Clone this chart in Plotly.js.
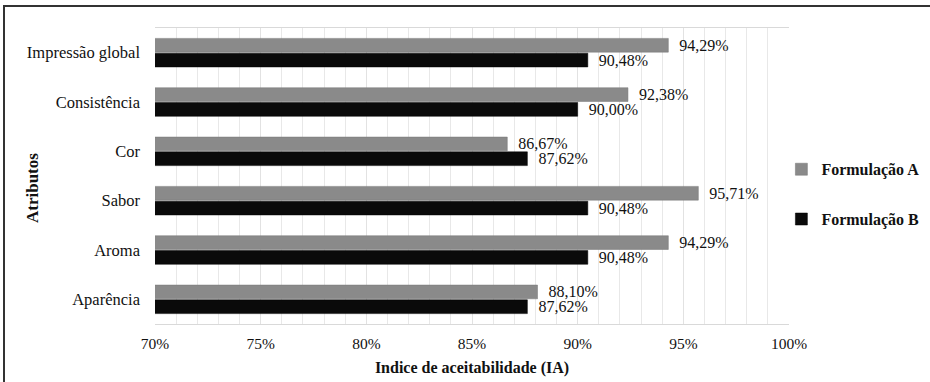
<!DOCTYPE html>
<html>
<head>
<meta charset="utf-8">
<script src="https://cdn.plot.ly/plotly-3.0.1.min.js"></script>
<style>
html,body{margin:0;padding:0;background:#fff;}
#wrap{position:relative;width:930px;height:382px;}
#chart{width:930px;height:382px;}
#frameTop{position:absolute;left:3px;top:5px;width:927px;height:2px;background:#333;pointer-events:none;}
#frameLeft{position:absolute;left:3px;top:5px;width:2px;height:377px;background:#333;pointer-events:none;}
</style>
</head>
<body>
<div id="wrap">
<div id="chart"></div>
<div id="frameTop"></div>
<div id="frameLeft"></div>
</div>
<script>
// Data (top-to-bottom order)
const categories = ["Impressão global", "Consistência", "Cor", "Sabor", "Aroma", "Aparência"];
const formulacaoA = [94.29, 92.38, 86.67, 95.71, 94.29, 88.10];
const formulacaoB = [90.48, 90.00, 87.62, 90.48, 90.48, 87.62];
const seriesNames = ["Formulação A", "Formulação B"];
const tickVals = [70, 75, 80, 85, 90, 95, 100];

const fmt = v => "  " + v.toFixed(2).replace(".", ",") + "%";
const serif = "Liberation Serif";

const traces = [
  {
    type: "bar", orientation: "h", name: seriesNames[0],
    y: categories, x: formulacaoA,
    marker: {color: "#8a8a8a", line: {color: "#777", width: 0.5}},
    text: formulacaoA.map(fmt), textposition: "outside", constraintext: "none",
    textfont: {family: serif, size: 16, color: "#111"},
    cliponaxis: false, legendgroup: "a", hoverinfo: "x+y"
  },
  {
    type: "bar", orientation: "h", name: seriesNames[1],
    y: categories, x: formulacaoB,
    marker: {color: "#0a0a0a", line: {color: "#000", width: 0.5}},
    text: formulacaoB.map(fmt), textposition: "outside", constraintext: "none",
    textfont: {family: serif, size: 16, color: "#111"},
    cliponaxis: false, legendgroup: "b", hoverinfo: "x+y"
  }
];

const layout = {
  width: 930, height: 382,
  margin: {l: 155, r: 141, t: 28, b: 58, autoexpand: false},
  paper_bgcolor: "#fff", plot_bgcolor: "#fff",
  barmode: "group", bargap: 0.40, bargroupgap: 0.07,
  font: {family: serif, size: 15, color: "#111"},
  xaxis: {
    range: [70, 100], tickvals: tickVals, ticktext: tickVals.map(v => v + "%"),
    showgrid: true, gridcolor: "#e2e2e2", gridwidth: 1,
    minor: {dtick: 1, showgrid: true, gridcolor: "#e8e8e8", gridwidth: 1},
    zeroline: false, showline: true, linecolor: "#d9d9d9", mirror: true,
    ticks: "", ticklabelstandoff: 5,
    tickfont: {family: serif, size: 15.5, color: "#111"},
    title: {text: "<b>Indice de aceitabilidade (IA)</b>", font: {family: serif, size: 16, color: "#111"}, standoff: 11},
    fixedrange: true
  },
  yaxis: {
    autorange: "reversed", type: "category",
    showgrid: false, zeroline: false, showline: false,
    ticks: "", ticklabelstandoff: 14,
    tickfont: {family: serif, size: 16.5, color: "#111"},
    fixedrange: true
  },
  annotations: [{
    text: "<b>Atributos</b>", xref: "paper", yref: "paper",
    x: (32 - 155) / 634, y: (324 - 188) / 296, xanchor: "center", yanchor: "middle",
    textangle: -90, showarrow: false,
    font: {family: serif, size: 17, color: "#111"}
  }],
  showlegend: true,
  legend: {
    x: 0.988, xanchor: "left", y: 0.58, yanchor: "top",
    traceorder: "grouped", tracegroupgap: 26,
    font: {family: serif, size: 16, color: "#111", weight: "bold"},
    itemwidth: 30, bgcolor: "rgba(0,0,0,0)"
  }
};

Plotly.newPlot("chart", traces, layout, {displayModeBar: false, staticPlot: true});
</script>
</body>
</html>
